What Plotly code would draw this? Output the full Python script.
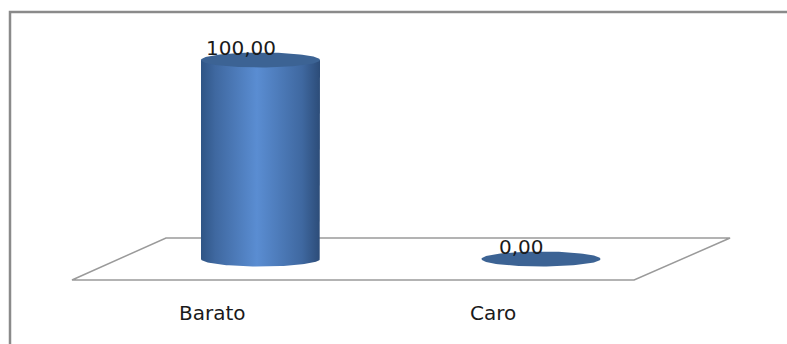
import numpy as np
import plotly.graph_objects as go

# ---- data ----
categories = ["Barato", "Caro"]
values = [100.00, 0.00]
value_labels = ["100,00", "0,00"]

# ---- geometry (styling) ----
W, H = 787, 344
PX_X = 280.5          # pixels per category unit
PX_Y = 1.99           # pixels per value unit
X0_PX, Y0_PX = 260.5, 259.0   # pixel position of category 0, value 0
A = 59.5 / PX_X       # cylinder half width (x units)
B = 7.5 / PX_Y        # ellipse half height (y units)

xr = [-X0_PX / PX_X, (W - X0_PX) / PX_X]
yr = [(Y0_PX - H) / PX_Y, Y0_PX / PX_Y]

fig = go.Figure()
theta_front = np.linspace(0, np.pi, 60)
theta_full = np.linspace(0, 2 * np.pi, 120)

for i, (cat, v) in enumerate(zip(categories, values)):
    c = i
    if v > 0:
        bx = [c - A, c - A, c + A, c + A] + list(c + A * np.cos(theta_front))
        by = [0, v, v, 0] + list(-B * np.sin(theta_front))
        fig.add_trace(go.Scatter(
            x=bx, y=by, mode="lines", fill="toself", line=dict(width=0),
            fillcolor="#4a7bbd",
            fillgradient=dict(type="horizontal",
                              colorscale=[[0, "#2f5585"], [0.12, "#3f68a0"],
                                          [0.47, "#5a8dd2"], [0.85, "#3f68a0"],
                                          [1, "#2c4c78"]]),
            hoverinfo="skip", showlegend=False))
    fig.add_trace(go.Scatter(
        x=list(c + A * np.cos(theta_full)), y=list(v + B * np.sin(theta_full)),
        mode="lines", fill="toself", line=dict(width=0), fillcolor="#3c6394",
        hoverinfo="skip", showlegend=False))
    fig.add_annotation(x=c, y=v, text=value_labels[i], showarrow=False,
                       xshift=-20, yshift=12,
                       font=dict(family="DejaVu Sans", size=20, color="#1a1a1a"))
    fig.add_annotation(x=c, y=0, text=cat, showarrow=False,
                       xshift=-48, yshift=-54,
                       font=dict(family="DejaVu Sans", size=20, color="#1a1a1a"))

# floor parallelogram
fb = 21.0 / PX_Y
floor = [(-0.337, fb), (1.674, fb), (1.332, -fb), (-0.672, -fb)]
path = "M " + " L ".join(f"{x},{y}" for x, y in floor) + " Z"
fig.add_shape(type="path", path=path, xref="x", yref="y", layer="below",
              line=dict(color="#9a9a9a", width=1.5), fillcolor="white")

# outer chart border
fig.add_shape(type="rect", xref="paper", yref="paper",
              x0=10 / W, y0=-0.05, x1=1.05, y1=1 - 12 / H,
              line=dict(color="#8a8a8a", width=2.5))

fig.update_layout(
    width=W, height=H, margin=dict(l=0, r=0, t=0, b=0),
    paper_bgcolor="white", plot_bgcolor="white",
    xaxis=dict(range=xr, visible=False, fixedrange=True),
    yaxis=dict(range=yr, visible=False, fixedrange=True),
    showlegend=False,
)
fig.write_html("out.html", config={"displayModeBar": False},
               post_script="document.body.style.margin='0px';"
                           "document.body.style.overflow='hidden';")
